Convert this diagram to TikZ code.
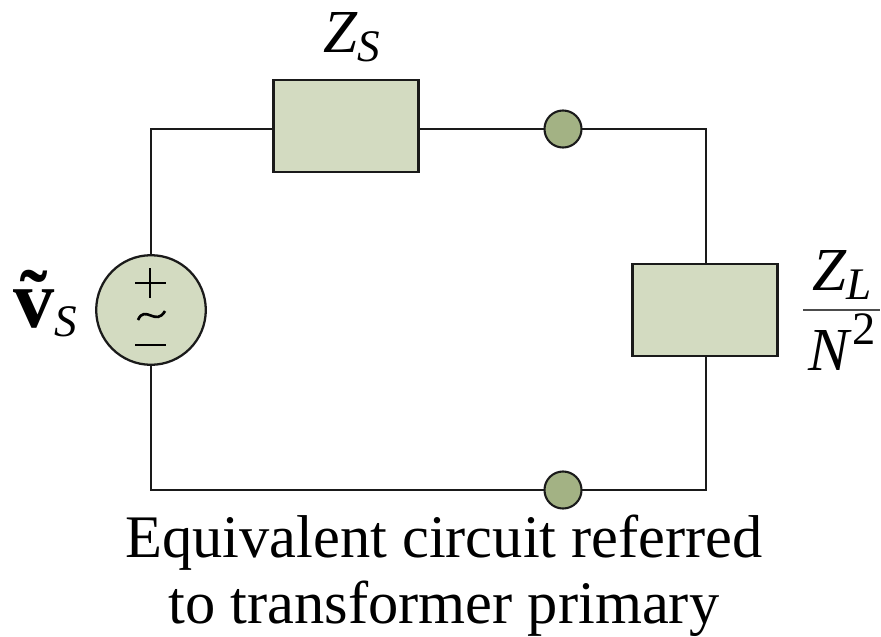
\documentclass[tikz,border=0pt]{standalone}
\usepackage{fontspec}
\setmainfont{Liberation Serif}
\usepackage{tikz}
\definecolor{boxFill}{HTML}{D3DBC1}
\definecolor{termFill}{HTML}{A3B284}
\definecolor{lineCol}{HTML}{1A1A1A}
\newcommand{\lowLab}[1]{{\fontsize{34}{34}\selectfont\raisebox{-0.22em}{\textit{#1}}}}
\newcommand{\highLab}[1]{{\fontsize{35}{35}\selectfont\raisebox{0.55em}{#1}}}
\tikzset{
  imp/.style={draw=lineCol,fill=boxFill,line width=0.6mm,minimum width=3.84cm,minimum height=2.42cm,inner sep=0pt},
  term/.style={circle,draw=lineCol,fill=termFill,line width=0.55mm,minimum size=0.98cm,inner sep=0pt},
  src/.style={circle,draw=lineCol,fill=boxFill,line width=0.6mm,minimum size=2.9cm,inner sep=0pt},
  wire/.style={draw=lineCol,line width=0.55mm},
  lab/.style={inner sep=0pt,text=black},
  sign/.style={draw=black,line width=0.7mm},
  bigLab/.style={lab,font=\fontsize{46}{46}\selectfont,anchor=base}
}
\begin{document}
\begin{tikzpicture}[x=0.02646cm,y=-0.02646cm]
\useasboundingbox (0,0) rectangle (881,636);

% Corner points
\coordinate (topLeft) at (151,129);
\coordinate (topRight) at (706,129);
\coordinate (botLeft) at (151,490);
\coordinate (botRight) at (706,490);

% Wires
\draw[wire] (151,310) -- (topLeft) -- (topRight) -- (706,310);
\draw[wire] (151,310) -- (botLeft) -- (botRight) -- (706,310);

% Elements
\node[imp] (zs) at (346,126) {};
\node[imp] (zl) at (705,310) {};
\node[src] (vs) at (151,310) {};
\node[term] (termTop) at (563,129) {};
\node[term] (termBot) at (563,490) {};

% Source signs
\draw[sign] (135,283) -- (166,283);
\draw[sign] (150,268) -- (150,298);
\draw[sign] (135,345) -- (166,345);
\draw[sign] (138,320) .. controls (145,304) and (156,327) .. (165,311);

% Labels
\node[bigLab] (zsLab) at (352,52) {\textit{Z}\lowLab{S}};
\node[bigLab,font=\fontsize{62}{62}\selectfont] (vsLab) at (45,327) {\textbf{\~v}\lowLab{S}};
\node[bigLab] (zlNum) at (842,290) {\textit{Z}\lowLab{L}};
\node[bigLab] (zlDen) at (842,370) {\textit{N}\highLab{2}};
\coordinate (barLeft) at (803,310);
\coordinate (barRight) at (880,310);
\draw[draw=black!70,line width=0.45mm] (barLeft) -- (barRight);
\node[lab,font=\fontsize{45.5}{50}\selectfont,align=center] (caption) at (444,576) {Equivalent circuit referred\\to transformer primary};
\end{tikzpicture}
\end{document}
